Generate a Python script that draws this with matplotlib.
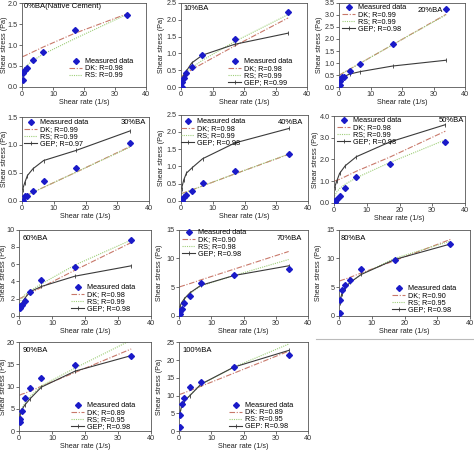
import matplotlib
matplotlib.use("Agg")
import matplotlib.pyplot as plt
from matplotlib.lines import Line2D

plt.rcParams['font.family'] = ['Liberation Sans', 'DejaVu Sans']

shear_rate = [0.17, 0.34, 0.85, 1.7, 3.4, 6.8, 17, 34]
model_rate = [0.17, 0.85, 1.7, 3.4, 6.8, 17, 34]

titles = ["0%BA(Native Cement)", "10%BA", "20%BA", "30%BA", "40%BA", "50%BA",
          "60%BA", "70%BA", "80%BA", "90%BA", "100%BA"]

meas_0 = [0.17, 0.33, 0.41, 0.45, 0.64, 0.83, 1.35, 1.73]
meas_10 = [0.0, 0.17, 0.27, 0.43, 0.59, 0.94, 1.44, 2.22]
meas_20 = [0.1, 0.28, 0.43, 0.43, 0.69, 0.95, 1.78, 3.25]
meas_30 = [0.0, 0.0, 0.09, 0.09, 0.17, 0.35, 0.59, 1.03]
meas_40 = [0.0, 0.05, 0.12, 0.17, 0.27, 0.51, 0.85, 1.37]
meas_50 = [0.05, 0.1, 0.15, 0.33, 0.68, 1.2, 1.78, 2.8]
meas_60 = [0.9, 1.1, 1.3, 1.7, 2.8, 4.2, 5.7, 8.8]
meas_70 = [0.3, 0.8, 1.2, 2.2, 3.5, 5.7, 7.1, 8.1]
meas_80 = [0.5, 2.7, 4.5, 5.4, 6.3, 8.2, 9.8, 12.5]
meas_90 = [2.0, 2.8, 4.6, 7.5, 9.8, 11.9, 14.9, 17.0]
meas_100 = [1.2, 4.6, 7.5, 9.3, 12.3, 13.8, 17.9, 21.4]

dk_0 = [0.72, 0.74, 0.77, 0.83, 0.95, 1.28, 1.75]
dk_10 = [0.32, 0.36, 0.42, 0.52, 0.7, 1.22, 2.05]
dk_20 = [0.51, 0.56, 0.63, 0.75, 1.0, 1.76, 3.02]
dk_30 = [0.06, 0.08, 0.1, 0.15, 0.24, 0.51, 0.97]
dk_40 = [0.21, 0.23, 0.26, 0.31, 0.43, 0.78, 1.35]
dk_50 = [1.0, 1.03, 1.08, 1.2, 1.45, 2.1, 3.3]
dk_60 = [2.0, 2.1, 2.3, 2.6, 3.3, 5.3, 8.5]
dk_70 = [5.03, 5.15, 5.3, 5.6, 6.25, 8.1, 11.2]
dk_80 = [6.05, 6.2, 6.35, 6.7, 7.45, 9.6, 13.3]
dk_90 = [8.05, 8.3, 8.5, 9.0, 10.1, 13.2, 18.5]
dk_100 = [10.3, 10.5, 10.8, 11.4, 12.6, 16.3, 22.5]

rs_0 = [0.35, 0.45, 0.52, 0.62, 0.78, 1.15, 1.74]
rs_10 = [0.3, 0.38, 0.46, 0.58, 0.8, 1.35, 2.15]
rs_20 = [0.48, 0.55, 0.62, 0.75, 1.0, 1.76, 3.0]
rs_30 = [0.05, 0.07, 0.1, 0.15, 0.24, 0.51, 0.96]
rs_40 = [0.2, 0.22, 0.25, 0.31, 0.43, 0.78, 1.36]
rs_50 = [0.3, 0.5, 0.65, 0.85, 1.15, 1.85, 2.9]
rs_60 = [1.5, 2.0, 2.4, 2.9, 3.7, 5.9, 8.8]
rs_70 = [1.3, 2.2, 2.9, 3.9, 5.2, 7.0, 9.8]
rs_80 = [2.5, 3.8, 4.7, 5.8, 7.2, 10.0, 13.0]
rs_90 = [3.5, 5.0, 6.2, 7.8, 10.2, 14.2, 20.5]
rs_100 = [4.5, 7.0, 8.3, 10.2, 13.0, 18.0, 24.5]

gep_0 = None
gep_10 = [0.22, 0.36, 0.48, 0.72, 0.95, 1.27, 1.6]
gep_20 = [0.2, 0.35, 0.45, 0.55, 0.65, 0.88, 1.12]
gep_30 = [0.2, 0.32, 0.45, 0.57, 0.72, 0.9, 1.25]
gep_40 = [0.35, 0.6, 0.8, 0.95, 1.22, 1.68, 2.1]
gep_50 = [0.7, 1.0, 1.35, 1.7, 2.12, 2.8, 3.6]
gep_60 = [1.0, 1.5, 2.0, 2.8, 3.4, 4.6, 5.8]
gep_70 = [1.5, 2.3, 3.0, 4.0, 5.3, 7.0, 8.7]
gep_80 = [2.3, 3.8, 4.8, 5.8, 7.2, 9.8, 12.5]
gep_90 = [3.2, 4.8, 5.8, 7.3, 9.9, 13.5, 17.0]
gep_100 = [4.5, 7.2, 8.5, 10.0, 13.2, 18.0, 22.7]

dk_labels = ["DK: R=0.98", "DK; R=0.98", "DK; R=0.99", "DK; R=0.99", "DK; R=0.98", "DK; R=0.98",
             "DK; R=0.98", "DK; R=0.90", "DK; R=0.90", "DK; R=0.89", "DK: R=0.89"]
rs_labels = ["RS: R=0.99", "RS; R=0.99", "RS; R=0.99", "RS; R=0.99", "RS; R=0.99", "RS; R=0.99",
             "RS; R=0.99", "RS; R=0.98", "RS; R=0.95", "RS; R=0.95", "RS: R=0.95"]
gep_labels = [None, "GEP; R=0.99", "GEP; R=0.98", "GEP; R=0.97", "GEP; R=0.98", "GEP; R=0.98",
              "GEP; R=0.98", "GEP; R=0.98", "GEP; R=0.98", "GEP; R=0.98", "GEP: R=0.98"]

y_max = [2.0, 2.5, 3.5, 1.5, 2.5, 4, 10, 15, 15, 20, 25]
y_step = [0.5, 0.5, 0.5, 0.5, 0.5, 1, 2, 5, 5, 5, 5]
y_fmt = ["%.1f"] * 6 + ["%d"] * 5

meas_all = [meas_0, meas_10, meas_20, meas_30, meas_40, meas_50, meas_60, meas_70, meas_80, meas_90, meas_100]
dk_all = [dk_0, dk_10, dk_20, dk_30, dk_40, dk_50, dk_60, dk_70, dk_80, dk_90, dk_100]
rs_all = [rs_0, rs_10, rs_20, rs_30, rs_40, rs_50, rs_60, rs_70, rs_80, rs_90, rs_100]
gep_all = [gep_0, gep_10, gep_20, gep_30, gep_40, gep_50, gep_60, gep_70, gep_80, gep_90, gep_100]

# layout (pixels): left, right, top, bottom
W, H = 474, 451
boxes = [
    (22, 146, 3.3, 86.7), (181, 307, 2.7, 87.3), (339, 465, 2.7, 87.3),
    (22, 149, 117, 200.7), (181, 308, 114.7, 200.7), (334, 465, 116, 202.7),
    (19, 151, 229.7, 315.7), (179, 308, 229.7, 315.7), (339, 470, 229.7, 315.7),
    (19, 151, 342.3, 431), (179, 308, 342.3, 431),
]
# y-label right edge (px)
ylab_x = [8, 165, 323, 8, 165, 319, 7, 163, 322, 7, 163]
# legend upper-left anchor (px)
leg_xy = [(69, 58), (228, 58), (342, 4), (24, 119), (181, 118), (337, 117),
          (71, 284), (182, 229), (392, 285), (71, 402), (229, 402)]
# title: left x, center y (px)
title_xy = [(24, 7), (183, 9), (418, 10), (121, 122), (278, 122), (439, 120),
            (23, 239), (277, 239), (341, 239), (23, 350), (182, 350)]

DK_C = "#c8786a"
RS_C = "#9fcf7a"
GEP_C = "#3a3a3a"
MEAS_C = "#1a1ac8"

fig = plt.figure(figsize=(W / 100, H / 100), dpi=100)

for i in range(11):
    l, r, t, b = boxes[i]
    ax = fig.add_axes([l / W, 1 - b / H, (r - l) / W, (b - t) / H])
    ax.plot(shear_rate, meas_all[i], linestyle="none", marker="D", ms=3.0,
            color=MEAS_C, label="Measured data", zorder=5)
    ax.plot(model_rate, dk_all[i], linestyle=(0, (5, 1.5, 1, 1.5)), lw=0.8, color=DK_C, label=dk_labels[i])
    ax.plot(model_rate, rs_all[i], linestyle=(0, (1, 1)), lw=0.8, color=RS_C, label=rs_labels[i])
    if gep_all[i] is not None:
        ax.plot(model_rate, gep_all[i], linestyle="-", lw=0.8, color=GEP_C, marker="|",
                ms=2.5, mew=0.6, label=gep_labels[i])
    ax.set_xlim(0, 40)
    ax.set_ylim(0, y_max[i])
    ax.set_xticks([0, 10, 20, 30, 40])
    n = int(round(y_max[i] / y_step[i]))
    ticks = [k * y_step[i] for k in range(n + 1)]
    ax.set_yticks(ticks)
    ax.set_yticklabels([y_fmt[i] % v for v in ticks])
    ax.tick_params(labelsize=5.2, length=2, width=0.5, pad=1.0, colors="#333333")
    for s in ax.spines.values():
        s.set_linewidth(0.6)
        s.set_color("#555555")
    ax.set_xlabel("Shear rate (1/s)", fontsize=5.2, labelpad=0.5, color="#222222")
    ax.set_ylabel("Shear stress (Pa)", fontsize=5.2, color="#222222")
    ax.yaxis.set_label_coords((ylab_x[i] - l) / (r - l), 0.5)
    tx, ty = title_xy[i]
    fig.text(tx / W, 1 - ty / H, titles[i], ha="left", va="center", fontsize=5.5)
    lx, ly = leg_xy[i]
    ax.legend(loc="upper left", bbox_to_anchor=(lx / W, 1 - ly / H), bbox_transform=fig.transFigure,
              fontsize=5.2, frameon=False, handlelength=1.8, handletextpad=0.4,
              labelspacing=0.0, borderaxespad=0, borderpad=0)

fig.add_artist(Line2D([316 / W, 1.0], [1 - 339 / H, 1 - 339 / H], color="#bbbbbb", lw=0.8))

fig.savefig("out.png", dpi=100)
